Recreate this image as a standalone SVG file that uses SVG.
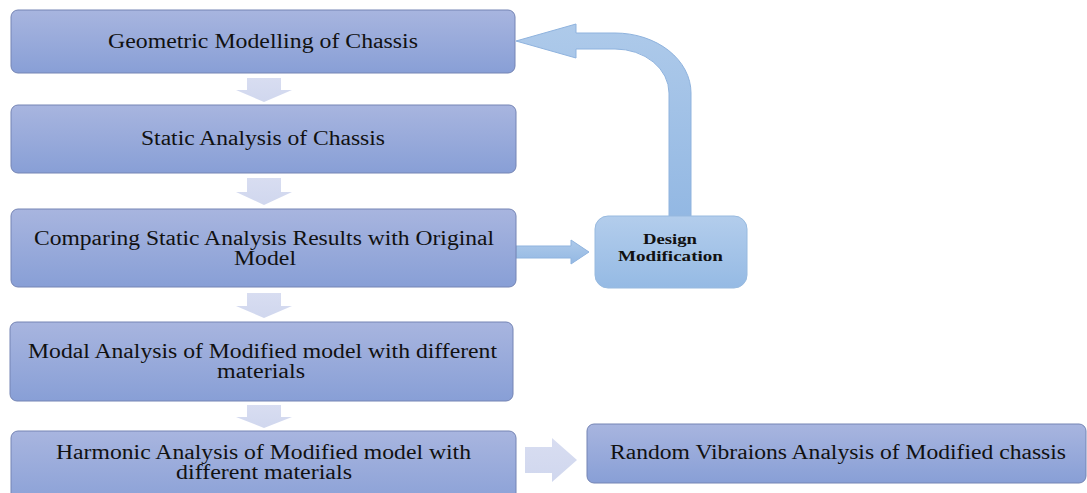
<svg xmlns="http://www.w3.org/2000/svg" width="1087" height="493" viewBox="0 0 1087 493">
<defs>
<linearGradient id="gBox" x1="0" y1="0" x2="0" y2="1">
<stop offset="0" stop-color="#a8b5df"/>
<stop offset="1" stop-color="#889fd6"/>
</linearGradient>
<linearGradient id="gDes" x1="0" y1="0" x2="0" y2="1">
<stop offset="0" stop-color="#b3cdec"/>
<stop offset="1" stop-color="#95bae4"/>
</linearGradient>
<linearGradient id="gLoop" x1="0" y1="0" x2="0" y2="1">
<stop offset="0" stop-color="#aecaea"/>
<stop offset="1" stop-color="#93b8e3"/>
</linearGradient>
<linearGradient id="gDown" x1="0" y1="0" x2="0" y2="1">
<stop offset="0" stop-color="#d8ddf1"/>
<stop offset="1" stop-color="#d0d7ee"/>
</linearGradient>
<style>
.box{fill:url(#gBox);stroke:#7484b4;stroke-width:1}
.des{fill:url(#gDes);stroke:#98badf;stroke-width:1}
.t{font-family:"Liberation Serif","Times New Roman",serif;font-size:20px;fill:#111}
.tb{font-family:"Liberation Serif","Times New Roman",serif;font-size:15px;font-weight:bold;fill:#111}
.down{fill:url(#gDown)}
.loop{fill:url(#gLoop);stroke:#8fb3de;stroke-width:1}
</style>
</defs>
<g id="connectors">
<path class="down" d="M247,78 L281,78 L281,90 L292,90 L264,102 L236,90 L247,90 Z"/>
<path class="down" d="M247,178 L281,178 L281,192 L292,192 L264,205 L236,192 L247,192 Z"/>
<path class="down" d="M247,293 L281,293 L281,306 L292,306 L264,318 L236,306 L247,306 Z"/>
<path class="down" d="M247,405 L281,405 L281,417 L292,417 L264,428 L236,417 L247,417 Z"/>
<path class="down" d="M525,447 L552,447 L552,438 L577,460 L552,482 L552,473 L525,473 Z"/>
<path class="loop" d="M516,252 L516,246 L571,246 L571,240 L589,252 L571,264 L571,258 L516,258 Z"/>
<path class="loop" d="M516,41 L576,24 L576,33 L615,33 A76,60 0 0 1 691,93 L691,216 L669,216 L669,93 A54,44 0 0 0 615,49 L576,49 L576,58 Z"/>
</g>
<g id="n1">
<rect class="box" x="11" y="10" width="504" height="63" rx="7"/>
<text class="t" x="108" y="48" textLength="310" lengthAdjust="spacingAndGlyphs">Geometric Modelling of Chassis</text>
</g>
<g id="n2">
<rect class="box" x="11" y="105" width="505" height="68" rx="7"/>
<text class="t" x="141" y="145" textLength="244" lengthAdjust="spacingAndGlyphs">Static Analysis of Chassis</text>
</g>
<g id="n3">
<rect class="box" x="11" y="209" width="505" height="78" rx="7"/>
<text class="t" x="34" y="245" textLength="460" lengthAdjust="spacingAndGlyphs">Comparing Static Analysis Results with Original</text>
<text class="t" x="234" y="265" textLength="62" lengthAdjust="spacingAndGlyphs">Model</text>
</g>
<g id="n4">
<rect class="box" x="10" y="322" width="503" height="79" rx="7"/>
<text class="t" x="28" y="358" textLength="469" lengthAdjust="spacingAndGlyphs">Modal Analysis of Modified model with different</text>
<text class="t" x="217" y="378" textLength="88" lengthAdjust="spacingAndGlyphs">materials</text>
</g>
<g id="n5">
<rect class="box" x="11" y="431" width="505" height="80" rx="7"/>
<text class="t" x="56" y="459" textLength="415" lengthAdjust="spacingAndGlyphs">Harmonic Analysis of Modified model with</text>
<text class="t" x="176" y="479" textLength="176" lengthAdjust="spacingAndGlyphs">different materials</text>
</g>
<g id="n6">
<rect class="box" x="587" y="424" width="499" height="59" rx="7"/>
<text class="t" x="610" y="459" textLength="456" lengthAdjust="spacingAndGlyphs">Random Vibraions Analysis of Modified chassis</text>
</g>
<g id="n7">
<rect class="des" x="595" y="216" width="152" height="72" rx="13"/>
<text class="tb" x="643" y="244" textLength="54" lengthAdjust="spacingAndGlyphs">Design</text>
<text class="tb" x="618" y="261" textLength="105" lengthAdjust="spacingAndGlyphs">Modification</text>
</g>
</svg>
